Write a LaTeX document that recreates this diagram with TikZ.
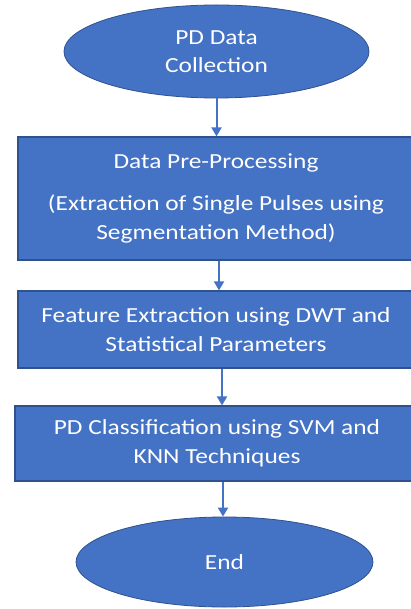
\documentclass[tikz,border=0pt]{standalone}
\usepackage{fontspec}
\setmainfont{Carlito}[FakeStretch=1.18]
\usetikzlibrary{shapes.geometric,arrows.meta}
\definecolor{boxblue}{HTML}{4472C4}
\definecolor{edgeblue}{HTML}{2F528F}
\begin{document}
\begin{tikzpicture}[x=1pt,y=-1pt,
  every node/.style={font=\fontsize{21.5}{28.5}\selectfont, text=white, align=center, inner sep=0pt},
  oval/.style={ellipse, fill=boxblue, draw=edgeblue, line width=0.8pt},
  stepbox/.style={rectangle, fill=boxblue, draw=edgeblue, line width=1.2pt},
  arr/.style={draw=boxblue, line width=2pt, -{Triangle[width=10pt,length=9pt]}}]
\useasboundingbox (0,0) rectangle (411,609);
\clip (0,0) rectangle (411,609);
\fill[white] (0,0) rectangle (411,609);

% flowchart stages
\node[oval, minimum width=305pt, minimum height=93pt] (start) at (216.5,51.5) {PD Data\\Collection};
\node[stepbox, minimum width=396pt, minimum height=123pt] (pre) at (216,198.5)
  {Data Pre-Processing\\[13.5pt](Extraction of Single Pulses using\\Segmentation Method)};
\node[stepbox, minimum width=396pt, minimum height=77pt] (feat) at (216,329.5)
  {Feature Extraction using DWT and\\Statistical Parameters};
\node[stepbox, minimum width=404pt, minimum height=75pt] (cls) at (217,443.5)
  {PD Classification using SVM and\\KNN Techniques};
\node[oval, minimum width=297pt, minimum height=90pt] (end) at (224.5,562) {End};

% connectors
\draw[arr] (start.south) -- (start.south |- pre.north);
\draw[arr] ([xshift=3pt]pre.south) -- ([xshift=3pt]pre.south |- feat.north);
\draw[arr] ([xshift=6pt]feat.south) -- ([xshift=6pt]feat.south |- cls.north);
\draw[arr] ([xshift=6pt]cls.south) -- ([xshift=6pt]cls.south |- end.north);
\end{tikzpicture}
\end{document}
